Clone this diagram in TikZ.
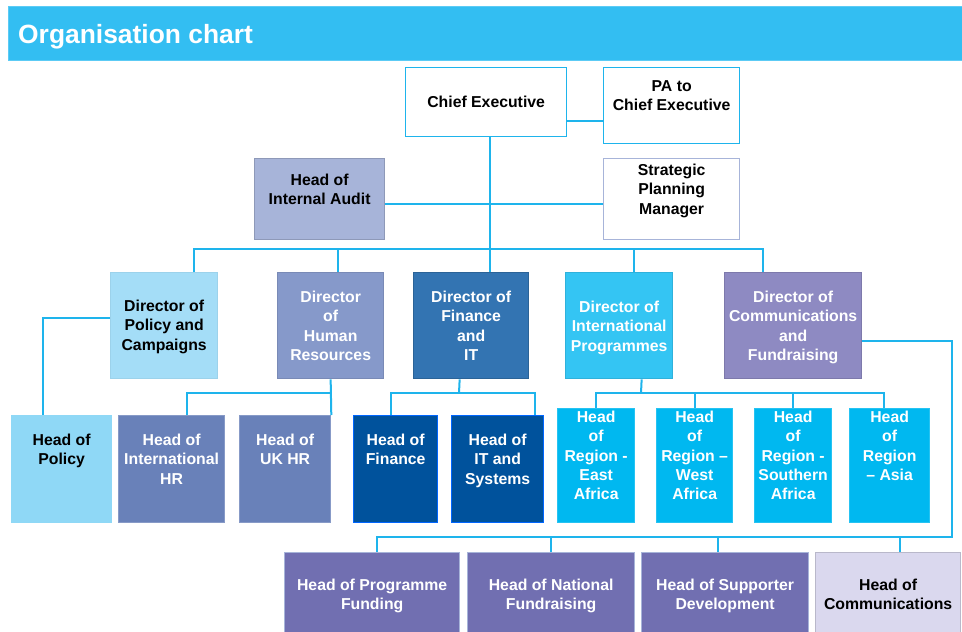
\documentclass[tikz,border=0pt]{standalone}
\usepackage{fontspec}
\setmainfont{Liberation Sans}
\usetikzlibrary{calc}

\definecolor{linkblue}{HTML}{1EB4EC}
\definecolor{barblue}{HTML}{33BEF2}
\definecolor{auditfill}{HTML}{A7B4D9}
\definecolor{polfill}{HTML}{A4DDF7}
\definecolor{hrfill}{HTML}{8699CA}
\definecolor{finfill}{HTML}{3374B2}
\definecolor{intfill}{HTML}{34C5F3}
\definecolor{comfill}{HTML}{8E8AC2}
\definecolor{hpolfill}{HTML}{8FD8F6}
\definecolor{hhrfill}{HTML}{6981B9}
\definecolor{hfinfill}{HTML}{00529C}
\definecolor{regfill}{HTML}{00B8F0}
\definecolor{fundfill}{HTML}{716FB1}
\definecolor{hcomfill}{HTML}{DAD8EE}

\tikzset{
  box/.style={draw, line width=1.3pt, anchor=north west, inner sep=0pt},
  lbl/.style={anchor=north, align=center, inner sep=0pt, yshift=-#1,
    font=\bfseries\fontsize{15.8}{19.3}\selectfont},
  link/.style={draw=linkblue, line width=2pt},
}

\begin{document}
\begin{tikzpicture}[x=1pt, y=-1pt]
  \clip (0,0) rectangle (962,632);
  \fill[white] (0,0) rectangle (962,632);

  % title bar
  \node[box, fill=barblue, draw=barblue!80!white, minimum width=956, minimum height=54] (bar) at (8,6) {};
  \node[anchor=base west, inner sep=0pt, text=white, font=\bfseries\fontsize{26.4}{30}\selectfont] (title) at (18,43) {Organisation chart};

  % top
  \node[box, fill=white, draw=linkblue, minimum width=161, minimum height=69,
        label={[lbl=29]north:Chief Executive}] (ce) at (405,67) {};
  \node[box, fill=white, draw=linkblue, minimum width=136, minimum height=76,
        label={[lbl=13]north:PA to\\Chief Executive}] (pa) at (603,67) {};
  \node[box, fill=white, draw=auditfill, minimum width=136, minimum height=81,
        label={[lbl=6]north:Strategic\\Planning\\Manager}] (spm) at (603,158) {};
  \node[box, fill=auditfill, draw=auditfill!85!black, minimum width=130, minimum height=81,
        label={[lbl=16]north:Head of\\Internal Audit}] (audit) at (254,158) {};

  % directors
  \node[box, fill=polfill, draw=polfill!95!black, minimum width=107, minimum height=106,
        label={[lbl=28]north:Director of\\Policy and\\Campaigns}] (dpol) at (110,272) {};
  \node[box, fill=hrfill, draw=hrfill!90!black, minimum width=106, minimum height=106,
        label={[lbl=19, white]north:Director\\of\\Human\\Resources}] (dhr) at (277,272) {};
  \node[box, fill=finfill, draw=finfill!85!black, minimum width=115, minimum height=106,
        label={[lbl=19, white]north:Director of\\Finance\\and\\IT}] (dfin) at (413,272) {};
  \node[box, fill=intfill, draw=intfill!90!black, minimum width=107, minimum height=106,
        label={[lbl=29, white]north:Director of\\International\\Programmes}] (dint) at (565,272) {};
  \node[box, fill=comfill, draw=comfill!88!black, minimum width=137, minimum height=106,
        label={[lbl=19, white]north:Director of\\Communications\\and\\Fundraising}] (dcom) at (724,272) {};

  % heads
  \node[box, fill=hpolfill, draw=hpolfill, minimum width=100, minimum height=107,
        label={[lbl=19]north:Head of\\Policy}] (hpol) at (11,415) {};
  \node[box, fill=hhrfill, draw=hhrfill!80!white, minimum width=106, minimum height=107,
        label={[lbl=19, white]north:Head of\\International\\HR}] (hihr) at (118,415) {};
  \node[box, fill=hhrfill, draw=hhrfill!80!white, minimum width=91, minimum height=107,
        label={[lbl=19, white]north:Head of\\UK HR}] (hukhr) at (239,415) {};
  \node[box, fill=hfinfill, draw=blue!60!cyan, minimum width=84, minimum height=107,
        label={[lbl=19, white]north:Head of\\Finance}] (hfin) at (353,415) {};
  \node[box, fill=hfinfill, draw=blue!60!cyan, minimum width=92, minimum height=107,
        label={[lbl=19, white]north:Head of\\IT and\\Systems}] (hit) at (451,415) {};
  \node[box, fill=regfill, draw=regfill!85!white, minimum width=77, minimum height=114,
        label={[lbl=3, white]north:Head\\of\\Region -\\East\\Africa}] (hea) at (557,408) {};
  \node[box, fill=regfill, draw=regfill!85!white, minimum width=76, minimum height=114,
        label={[lbl=3, white]north:Head\\of\\Region \textendash\\West\\Africa}] (hwa) at (656,408) {};
  \node[box, fill=regfill, draw=regfill!85!white, minimum width=77, minimum height=114,
        label={[lbl=3, white]north:Head\\of\\Region -\\Southern\\Africa}] (hsa) at (754,408) {};
  \node[box, fill=regfill, draw=regfill!85!white, minimum width=80, minimum height=114,
        label={[lbl=3, white]north:Head\\of\\Region\\\textendash{} Asia}] (has) at (849,408) {};

  % bottom row
  \node[box, fill=fundfill, draw=auditfill, minimum width=175, minimum height=108,
        label={[lbl=27, white]north:Head of Programme\\Funding}] (hpf) at (284,552) {};
  \node[box, fill=fundfill, draw=auditfill, minimum width=167, minimum height=108,
        label={[lbl=27, white]north:Head of National\\Fundraising}] (hnf) at (467,552) {};
  \node[box, fill=fundfill, draw=auditfill, minimum width=167, minimum height=108,
        label={[lbl=27, white]north:Head of Supporter\\Development}] (hsd) at (641,552) {};
  \node[box, fill=hcomfill, draw=hcomfill!85!black, minimum width=145, minimum height=108,
        label={[lbl=27]north:Head of\\Communications}] (hcom) at (815,552) {};

  % hubs
  \coordinate (tophub) at (489,249);
  \coordinate (hrhub) at (330,393);
  \coordinate (finhub) at (459,393);
  \coordinate (inthub) at (641,393);
  \coordinate (comhub) at (952,537);

  % connectors
  \draw[link] ([xshift=3.5]ce.south) -- ([xshift=3.5]ce.south |- dfin.north);
  \draw[link] ([yshift=-18.5]ce.east) -- ++(37,0);
  \draw[link] ([yshift=-5]audit.east) -- ([yshift=-5]spm.west);
  \draw[link] ([xshift=29.5]dpol.north) |- (tophub) -| ([xshift=-30.5]dcom.north);
  \draw[link] ([xshift=7]dhr.north) -- ++(0,-23);
  \draw[link] ([xshift=14.5]dint.north) -- ++(0,-23);

  \draw[link] ([yshift=8]dpol.west) -| ([xshift=-19]hpol.north);

  \draw[link] (dhr.south) -- (hukhr.north east);
  \draw[link] ([xshift=15]hihr.north) |- (hrhub);

  \draw[link] ([xshift=-11.5]dfin.south) -- (finhub);
  \draw[link] ([xshift=-5]hfin.north) |- (finhub) -| ([xshift=37]hit.north);

  \draw[link] ([xshift=22.5]dint.south) -- (inthub);
  \draw[link] (hea.north) |- (inthub) -| ([xshift=-6]has.north);
  \draw[link] (hwa.north) -- ++(0,-15);
  \draw[link] (hsa.north) -- ++(0,-15);

  \draw[link] ([yshift=-15]dcom.east) -| (comhub) -| ([xshift=4.5]hpf.north);
  \draw[link] (hnf.north) -- ++(0,-15);
  \draw[link] ([xshift=-7.5]hsd.north) -- ++(0,-15);
  \draw[link] ([xshift=11.5]hcom.north) -- ++(0,-15);
\end{tikzpicture}
\end{document}
